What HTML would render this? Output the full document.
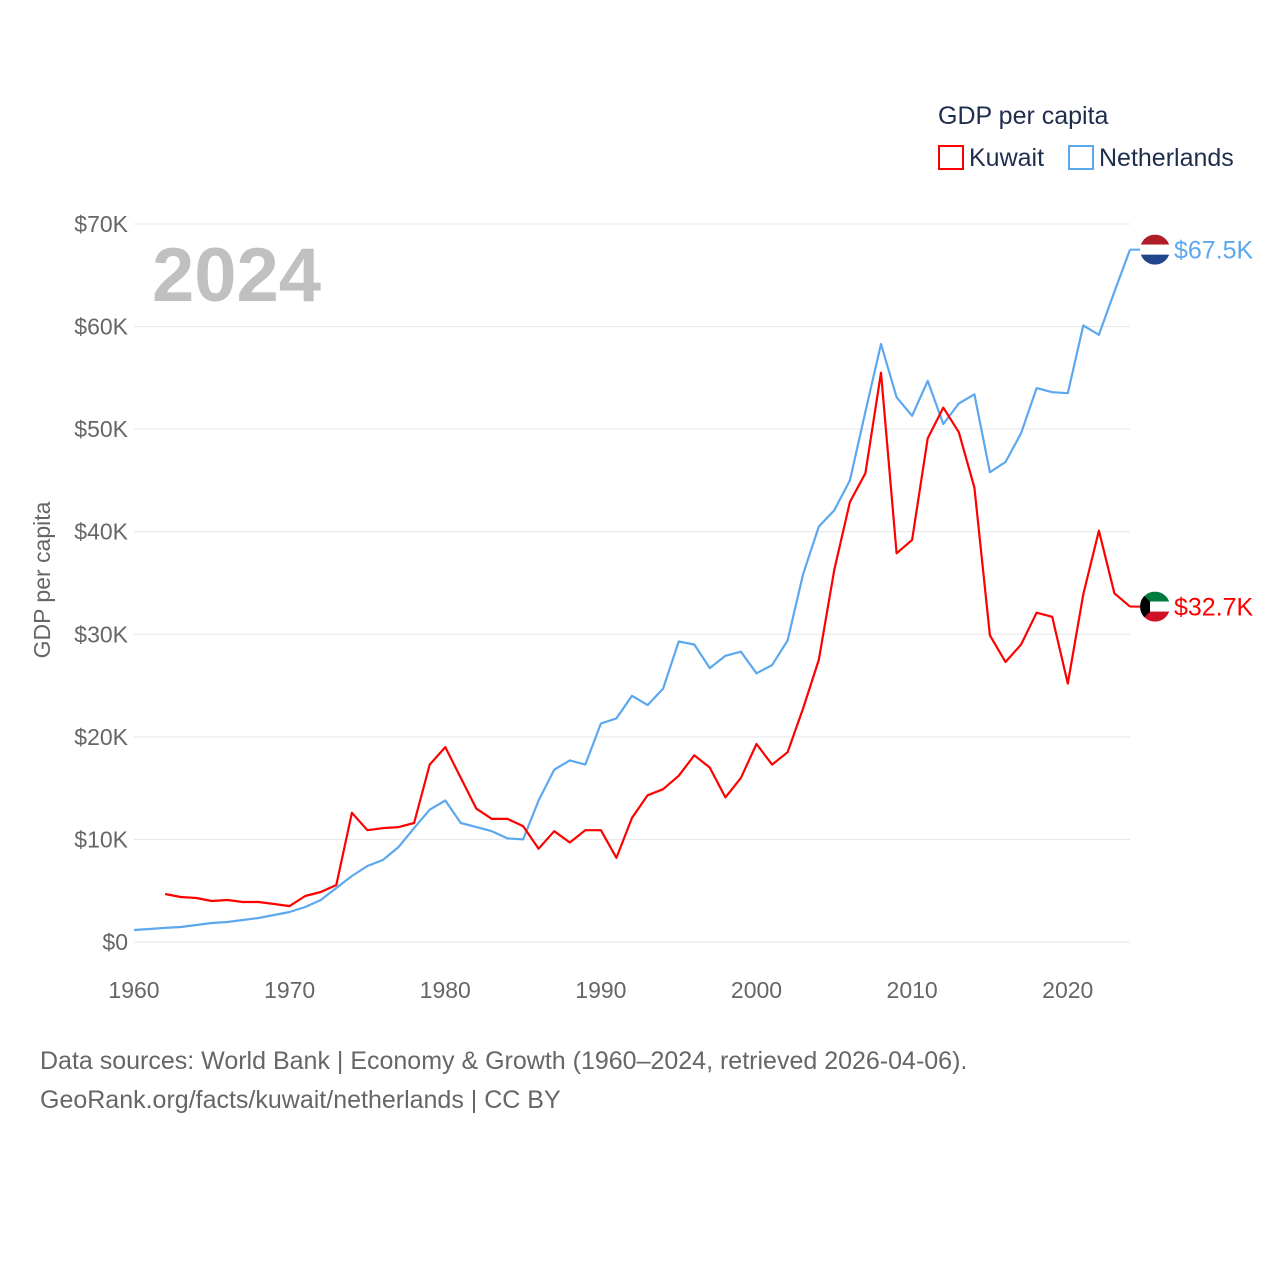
<!DOCTYPE html>
<html><head><meta charset="utf-8"><style>
body{margin:0;background:#fff;font-family:"Liberation Sans",sans-serif}
svg text{font-family:"Liberation Sans",sans-serif}
</style></head><body>
<svg id="chart" width="1280" height="1280" viewBox="0 0 1280 1280">
<text x="938" y="124" font-size="25" fill="#1f2d4d">GDP per capita</text>
<rect x="939" y="146" width="24" height="23" fill="none" stroke="#ff0000" stroke-width="2"/>
<text x="969" y="166" font-size="25" fill="#1f2d4d">Kuwait</text>
<rect x="1069" y="146" width="24" height="23" fill="none" stroke="#5ca8ef" stroke-width="2"/>
<text x="1099" y="166" font-size="25" fill="#1f2d4d">Netherlands</text>
<text x="152" y="301" font-size="76" font-weight="bold" fill="#c0c0c0">2024</text>
<text transform="translate(50,580) rotate(-90)" text-anchor="middle" font-size="23" fill="#666">GDP per capita</text>
<g id="grid"></g><g id="xt"></g><g id="series"></g><g id="ends"></g>
<text x="40" y="1069" font-size="25" fill="#666">Data sources: World Bank | Economy &amp; Growth (1960–2024, retrieved 2026-04-06).</text>
<text x="40" y="1108" font-size="25" fill="#666">GeoRank.org/facts/kuwait/netherlands | CC BY</text>
</svg>
<script>
const yTicks=[0,10,20,30,40,50,60,70];
const yTickLabels=["$0","$10K","$20K","$30K","$40K","$50K","$60K","$70K"];
const xTicks=[1960,1970,1980,1990,2000,2010,2020];
const nlStart=1960;
const nlValues=[1.17,1.27,1.37,1.46,1.66,1.85,1.95,2.14,2.34,2.63,2.92,3.41,4.09,5.26,6.43,7.41,8.0,9.26,11.1,12.9,13.8,11.6,11.2,10.8,10.1,10.0,13.8,16.8,17.7,17.3,21.3,21.8,24.0,23.1,24.7,29.3,29.0,26.7,27.9,28.3,26.2,27.0,29.4,35.9,40.5,42.1,45.0,51.7,58.3,53.1,51.3,54.7,50.5,52.5,53.4,45.8,46.8,49.6,54.0,53.6,53.5,60.1,59.2,63.4,67.5];
const kwStart=1962;
const kwValues=[4.68,4.39,4.29,4.0,4.09,3.9,3.9,3.7,3.5,4.48,4.87,5.56,12.6,10.9,11.1,11.2,11.6,17.3,19.0,16.0,13.0,12.0,12.0,11.3,9.1,10.8,9.7,10.9,10.9,8.2,12.1,14.3,14.9,16.2,18.2,17.0,14.1,16.0,19.3,17.3,18.5,22.8,27.5,36.3,42.9,45.7,55.5,37.9,39.2,49.1,52.1,49.7,44.3,29.9,27.3,29.0,32.1,31.7,25.2,33.9,40.1,34.0,32.7];
const NS="http://www.w3.org/2000/svg";
const X=yr=>134+(yr-1960)*(996/64);
const Y=v=>942-v*(718/70);
function mk(t,a,p){const e=document.createElementNS(NS,t);for(const k in a)e.setAttribute(k,a[k]);p.appendChild(e);return e;}
const grid=document.getElementById('grid');
yTicks.forEach((v,i)=>{
 const l=mk('line',{x1:134,x2:1130,y1:Y(v),y2:Y(v),stroke:'#e6e6e6','stroke-width':1},grid);
 
 
 const t=mk('text',{x:128,y:Y(v)+8,'text-anchor':'end','font-size':23,fill:'#666'},grid);
 t.textContent=yTickLabels[i];
 
 
});
const xt=document.getElementById('xt');
xTicks.forEach(yr=>{
 const t=mk('text',{x:X(yr),y:998,'text-anchor':'middle','font-size':23,fill:'#666'},xt);
 t.textContent=yr;
 
 
});
const series=document.getElementById('series');
function line(vals,start,col,name){
 const d=vals.map((v,i)=>(i?'L':'M')+X(start+i).toFixed(1)+','+Y(v).toFixed(1)).join('');
 const p=mk('path',{d:d,fill:'none',stroke:col,'stroke-width':2.2,'stroke-linejoin':'round'},series);
 
 
}
line(nlValues,nlStart,'#5ca8ef','line-netherlands');
line(kwValues,kwStart,'#ff0000','line-kuwait');
const ends=document.getElementById('ends');
function end(v,col,label,name,flag){
 const y=Y(v);
 mk('line',{x1:1130,x2:1142,y1:y,y2:y,stroke:col,'stroke-width':2},ends);
 const g=mk('g',{},ends);
 
 
 const cx=1155,r=15;
 const id='c'+name;
 const cp=mk('clipPath',{id:id},g);mk('circle',{cx:cx,cy:y,r:r},cp);
 const gg=mk('g',{'clip-path':'url(#'+id+')'},g);
 if(flag==='nl'){
  mk('rect',{x:cx-r,y:y-r,width:30,height:10,fill:'#ae1c28'},gg);
  mk('rect',{x:cx-r,y:y-5,width:30,height:10,fill:'#fff'},gg);
  mk('rect',{x:cx-r,y:y+5,width:30,height:10,fill:'#21468b'},gg);
 }else{
  mk('rect',{x:cx-r,y:y-r,width:30,height:10,fill:'#007a3d'},gg);
  mk('rect',{x:cx-r,y:y-5,width:30,height:10,fill:'#fff'},gg);
  mk('rect',{x:cx-r,y:y+5,width:30,height:10,fill:'#ce1126'},gg);
  mk('polygon',{points:(cx-r)+','+(y-r)+' '+(cx-5)+','+(y-5)+' '+(cx-5)+','+(y+5)+' '+(cx-r)+','+(y+r),fill:'#000'},gg);
 }
 const t=mk('text',{x:1174,y:y+9,'font-size':25,fill:col},ends);
 t.textContent=label;
 
 
}
end(nlValues[nlValues.length-1],'#5ca8ef','$67.5K','netherlands','nl');
end(kwValues[kwValues.length-1],'#ff0000','$32.7K','kuwait','kw');
</script>
</body></html>
